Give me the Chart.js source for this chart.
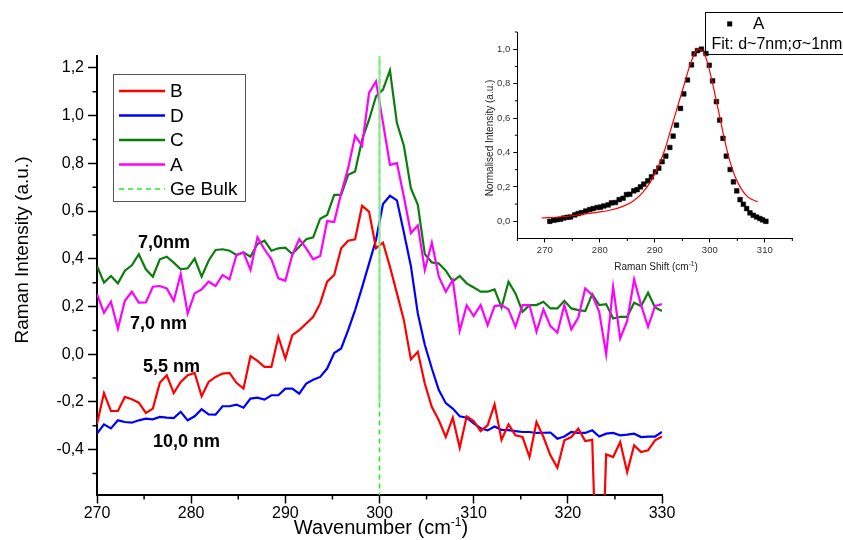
<!DOCTYPE html>
<html>
<head>
<meta charset="utf-8">
<script src="https://cdn.jsdelivr.net/npm/chart.js@4.4.0/dist/chart.umd.min.js"></script>
<style>
  html, body { margin: 0; padding: 0; background: #fff; }
  #wrap { position: relative; width: 843px; height: 540px; }
  #main { position: absolute; left: 0; top: 0; }
  #inset { position: absolute; left: 470px; top: 0; }
</style>
</head>
<body>
<div id="wrap">
  <canvas id="main" width="843" height="540"></canvas>
  <canvas id="inset" width="373" height="275"></canvas>
</div>
<script>
// ---- main chart data (Raman spectra) ----
const wavenumber = [
  270.00, 270.74, 271.48, 272.22, 272.96, 273.70, 274.44, 275.19, 275.93, 276.67,
  277.41, 278.15, 278.89, 279.63, 280.37, 281.11, 281.85, 282.59, 283.33, 284.07,
  284.81, 285.56, 286.30, 287.04, 287.78, 288.52, 289.26, 290.00, 290.74, 291.48,
  292.22, 292.96, 293.70, 294.44, 295.19, 295.93, 296.67, 297.41, 298.15, 298.89,
  299.63, 300.37, 301.11, 301.85, 302.59, 303.33, 304.07, 304.81, 305.56, 306.30,
  307.04, 307.78, 308.52, 309.26, 310.00, 310.74, 311.48, 312.22, 312.96, 313.70,
  314.44, 315.19, 315.93, 316.67, 317.41, 318.15, 318.89, 319.63, 320.37, 321.11,
  321.85, 322.59, 323.33, 324.07, 324.81, 325.56, 326.30, 327.04, 327.78, 328.52,
  329.26, 330.00
];

const intensityB = [
  -0.291, -0.163, -0.238, -0.238, -0.179, -0.189, -0.203, -0.246, -0.228, -0.120,
  -0.088, -0.163, -0.116, -0.088, -0.078, -0.176, -0.116, -0.095, -0.081, -0.078,
  -0.120, -0.144, -0.008, -0.028, -0.053, -0.053, 0.073, -0.018, 0.080, 0.101,
  0.129, 0.157, 0.213, 0.304, 0.332, 0.444, 0.476, 0.482, 0.622, 0.598,
  0.444, 0.468, 0.367, 0.255, 0.143, -0.022, 0.010, -0.123, -0.221, -0.277,
  -0.347, -0.266, -0.392, -0.260, -0.280, -0.322, -0.298, -0.210, -0.359, -0.294,
  -0.340, -0.347, -0.431, -0.284, -0.347, -0.424, -0.476, -0.361, -0.347, -0.312,
  -0.364, -0.359, -1.300, -0.420, -0.431, -0.368, -0.494, -0.382, -0.410, -0.403,
  -0.361, -0.345
];

const intensityD = [
  -0.333, -0.294, -0.311, -0.277, -0.284, -0.287, -0.277, -0.270, -0.273, -0.263,
  -0.266, -0.268, -0.241, -0.277, -0.260, -0.230, -0.252, -0.253, -0.218, -0.218,
  -0.211, -0.224, -0.186, -0.182, -0.190, -0.172, -0.172, -0.144, -0.144, -0.165,
  -0.123, -0.107, -0.095, -0.060, 0.005, 0.024, 0.101, 0.185, 0.280, 0.380,
  0.480, 0.630, 0.664, 0.645, 0.510, 0.370, 0.170, 0.040, -0.060, -0.150,
  -0.205, -0.228, -0.260, -0.266, -0.290, -0.310, -0.319, -0.303, -0.317, -0.318,
  -0.322, -0.326, -0.326, -0.330, -0.329, -0.328, -0.354, -0.345, -0.326, -0.330,
  -0.330, -0.319, -0.345, -0.333, -0.330, -0.340, -0.337, -0.333, -0.347, -0.345,
  -0.345, -0.326
];

const intensityC = [
  0.370, 0.300, 0.328, 0.297, 0.350, 0.373, 0.419, 0.356, 0.325, 0.398,
  0.409, 0.384, 0.356, 0.360, 0.401, 0.325, 0.392, 0.437, 0.440, 0.434,
  0.416, 0.427, 0.409, 0.462, 0.476, 0.434, 0.444, 0.447, 0.420, 0.451,
  0.482, 0.490, 0.568, 0.584, 0.668, 0.668, 0.752, 0.766, 0.899, 0.983,
  1.081, 1.109, 1.190, 0.969, 0.874, 0.696, 0.626, 0.420, 0.385, 0.380,
  0.350, 0.305, 0.328, 0.297, 0.280, 0.262, 0.262, 0.272, 0.196, 0.304,
  0.255, 0.178, 0.206, 0.206, 0.220, 0.192, 0.192, 0.224, 0.192, 0.185,
  0.181, 0.252, 0.206, 0.210, 0.150, 0.157, 0.157, 0.216, 0.202, 0.258,
  0.196, 0.181
];

const intensityA = [
  0.252, 0.174, 0.220, 0.108, 0.224, 0.262, 0.216, 0.217, 0.283, 0.286,
  0.276, 0.224, 0.336, 0.171, 0.255, 0.272, 0.304, 0.286, 0.332, 0.314,
  0.416, 0.427, 0.353, 0.490, 0.440, 0.398, 0.318, 0.308, 0.416, 0.482,
  0.444, 0.398, 0.412, 0.558, 0.554, 0.675, 0.780, 0.916, 0.874, 1.095,
  1.144, 0.970, 0.794, 0.801, 0.660, 0.508, 0.540, 0.353, 0.468, 0.325,
  0.262, 0.311, 0.098, 0.205, 0.160, 0.206, 0.122, 0.202, 0.206, 0.188,
  0.115, 0.206, 0.206, 0.094, 0.188, 0.118, 0.090, 0.206, 0.104, 0.154,
  0.276, 0.248, 0.178, 0.000, 0.283, 0.066, 0.140, 0.314, 0.206, 0.115,
  0.202, 0.210
];

const geBulkX = 300;
const geBulkDashed = [-0.6, 1.25];
const geBulkSolid = [-0.2, 1.25];

const xTicks = [270, 280, 290, 300, 310, 320, 330];
const xMinor = [275, 285, 295, 305, 315, 325];
const yTicks = [-0.4, -0.2, 0, 0.2, 0.4, 0.6, 0.8, 1.0, 1.2];
const yMinor = [-0.5, -0.3, -0.1, 0.1, 0.3, 0.5, 0.7, 0.9, 1.1];

const sizeLabels = ["7,0nm", "7,0 nm", "5,5 nm", "10,0 nm"];

// ---- inset data (normalised spectrum A + fit) ----
const shiftA = [
  270.91, 271.64, 272.24, 272.85, 273.45, 274.06, 274.67, 275.45, 276.06, 276.67,
  277.45, 278.18, 278.79, 279.52, 280.12, 280.73, 281.52, 282.12, 282.85, 283.52,
  284.24, 284.85, 285.45, 286.18, 286.79, 287.39, 288.00, 288.73, 289.39, 290.12,
  290.73, 291.33, 292.00, 292.73, 293.33, 293.94, 294.67, 295.27, 295.94, 296.67,
  297.15, 297.76, 298.48, 299.30, 299.90, 300.50, 301.20, 301.80, 302.40, 303.00,
  303.70, 304.30, 304.90, 305.50, 306.10, 306.70, 307.30, 307.90, 308.50, 309.10,
  309.60, 310.20
];
const normA = [
  0.000, 0.006, 0.010, 0.012, 0.019, 0.023, 0.025, 0.037, 0.045, 0.050,
  0.060, 0.068, 0.074, 0.080, 0.082, 0.089, 0.095, 0.107, 0.109, 0.126,
  0.134, 0.155, 0.157, 0.177, 0.184, 0.200, 0.216, 0.235, 0.258, 0.287,
  0.309, 0.346, 0.379, 0.429, 0.495, 0.559, 0.656, 0.740, 0.821, 0.909,
  0.973, 0.992, 1.000, 0.975, 0.907, 0.816, 0.695, 0.588, 0.482, 0.379,
  0.301, 0.229, 0.177, 0.126, 0.099, 0.074, 0.049, 0.035, 0.025, 0.016,
  0.008, 0.000
];
const fitShift = [
  269.4, 272.7, 275.8, 278.8, 281.8, 284.2, 286.1, 287.9, 289.4, 290.6,
  291.8, 292.7, 293.6, 294.5, 295.5, 296.4, 297.3, 297.9, 299.1, 300.0,
  300.9, 301.8, 302.7, 303.6, 304.5, 305.7, 306.9, 308.7
];
const fitNorm = [
  0.019, 0.025, 0.035, 0.049, 0.064, 0.087, 0.118, 0.171, 0.239, 0.317,
  0.414, 0.511, 0.608, 0.705, 0.812, 0.909, 0.977, 1.000, 0.967, 0.870,
  0.744, 0.608, 0.472, 0.355, 0.268, 0.190, 0.142, 0.113
];

const insetXTicks = [270, 280, 290, 300, 310];
const insetXMinor = [265, 275, 285, 295, 305, 315];
const insetYTicks = [0, 0.2, 0.4, 0.6, 0.8, 1.0];
const insetYMinor = [0.1, 0.3, 0.5, 0.7, 0.9, 1.1];

// ---- helpers ----
const FONT = '"Liberation Sans", Arial, sans-serif';
const comma = v => (Math.abs(v) < 1e-9 ? 0 : v).toFixed(1).replace('.', ',');
const pts = (xs, ys) => ys.map((v, i) => ({ x: xs[i], y: v }));

// short minor tick marks drawn outside the axes
const minorTicks = {
  id: 'minorTicks',
  afterDraw(chart, args, opts) {
    const { ctx, chartArea } = chart;
    const xs = chart.scales.x, ys = chart.scales.y;
    ctx.save();
    ctx.strokeStyle = '#000';
    ctx.lineWidth = opts.width;
    ctx.beginPath();
    opts.x.forEach(v => {
      const p = xs.getPixelForValue(v);
      ctx.moveTo(p, chartArea.bottom);
      ctx.lineTo(p, chartArea.bottom + opts.len);
    });
    opts.y.forEach(v => {
      const p = ys.getPixelForValue(v);
      ctx.moveTo(chartArea.left, p);
      ctx.lineTo(chartArea.left - opts.len, p);
    });
    ctx.stroke();
    ctx.restore();
  }
};

function superTitle(ctx, text, sup, close, cx, baseline, size, supSize) {
  ctx.font = size + 'px ' + FONT;
  const w1 = ctx.measureText(text).width;
  const w3 = ctx.measureText(close).width;
  ctx.font = supSize + 'px ' + FONT;
  const w2 = ctx.measureText(sup).width;
  let x = cx - (w1 + w2 + w3) / 2;
  ctx.textAlign = 'left';
  ctx.textBaseline = 'alphabetic';
  ctx.font = size + 'px ' + FONT;
  ctx.fillText(text, x, baseline);
  x += w1;
  ctx.font = supSize + 'px ' + FONT;
  ctx.fillText(sup, x, baseline - size * 0.42);
  x += w2;
  ctx.font = size + 'px ' + FONT;
  ctx.fillText(close, x, baseline);
}

// legend box, size notes and axis titles of the main plot
const mainDecor = {
  id: 'mainDecor',
  afterDraw(chart) {
    const ctx = chart.ctx;
    ctx.save();
    ctx.strokeStyle = '#555';
    ctx.lineWidth = 1;
    ctx.strokeRect(113.5, 74.5, 132, 127);
    ctx.font = '19px ' + FONT;
    ctx.textBaseline = 'middle';
    ctx.textAlign = 'left';
    chart.data.datasets.filter(d => !d.noLegend).forEach((d, i) => {
      const y = 91 + i * 24.5;
      ctx.beginPath();
      ctx.strokeStyle = d.borderColor;
      ctx.lineWidth = d.borderDash ? 1.6 : 2.5;
      ctx.setLineDash(d.borderDash || []);
      ctx.moveTo(119, y);
      ctx.lineTo(165, y);
      ctx.stroke();
      ctx.setLineDash([]);
      ctx.fillStyle = '#000';
      ctx.fillText(d.label, 170, y + 1);
    });

    const notePos = [[138, 243], [130, 324], [143, 367], [153, 442]];
    ctx.font = 'bold 18px ' + FONT;
    sizeLabels.forEach((t, i) => ctx.fillText(t, notePos[i][0], notePos[i][1]));

    ctx.save();
    ctx.translate(23, 250);
    ctx.rotate(-Math.PI / 2);
    ctx.textAlign = 'center';
    ctx.font = '19px ' + FONT;
    ctx.fillText('Raman Intensity (a.u.)', 0, 0);
    ctx.restore();

    superTitle(ctx, 'Wavenumber (cm', '-1', ')', 381, 534, 20, 12);
    ctx.restore();
  }
};

const axisStyle = (len, width) => ({
  grid: { drawOnChartArea: false, drawTicks: true, tickLength: len, tickWidth: width, tickColor: '#000' },
  border: { display: true, color: '#000', width: 2 }
});

new Chart(document.getElementById('main'), {
  type: 'line',
  data: {
    datasets: [
      { label: 'B', data: pts(wavenumber, intensityB), borderColor: '#ff0000', order: 3 },
      { label: 'D', data: pts(wavenumber, intensityD), borderColor: '#0000ff', order: 4 },
      { label: 'C', data: pts(wavenumber, intensityC), borderColor: '#0b7d0b', order: 2 },
      { label: 'A', data: pts(wavenumber, intensityA), borderColor: '#ff00ff', order: 1 },
      { label: 'Ge Bulk', data: geBulkDashed.map(y => ({ x: geBulkX, y })), borderColor: '#22ee22',
        borderDash: [5, 4], borderWidth: 1.6, order: 0 },
      { label: 'Ge Bulk line', noLegend: true, data: geBulkSolid.map(y => ({ x: geBulkX, y })),
        borderColor: '#86e886', borderWidth: 2, order: -1 }
    ]
  },
  options: {
    responsive: false,
    animation: false,
    elements: { point: { radius: 0 }, line: { borderWidth: 2.2, tension: 0 } },
    layout: { padding: { left: 0, top: 56, right: 181, bottom: 0 } },
    plugins: {
      legend: { display: false },
      tooltip: { enabled: false },
      minorTicks: { x: xMinor, y: yMinor, len: 4.5, width: 1.5 }
    },
    scales: {
      x: {
        type: 'linear', min: 270, max: 330,
        afterFit: s => { s.height = 45; },
        afterBuildTicks: s => { s.ticks = xTicks.map(v => ({ value: v })); },
        ticks: { color: '#000', font: { family: FONT, size: 16 }, padding: 0, maxRotation: 0,
                 callback: v => String(v) },
        ...axisStyle(8.5, 1.5)
      },
      y: {
        type: 'linear', min: -0.59, max: 1.25,
        afterFit: s => { s.width = 97; },
        afterBuildTicks: s => { s.ticks = yTicks.map(v => ({ value: v })); },
        ticks: { color: '#000', font: { family: FONT, size: 16 }, padding: 4, callback: v => comma(v) },
        ...axisStyle(9, 1.5)
      }
    }
  },
  plugins: [minorTicks, mainDecor]
});

// ---- inset ----
const insetDecor = {
  id: 'insetDecor',
  afterDraw(chart) {
    const ctx = chart.ctx;
    ctx.save();
    ctx.fillStyle = '#000';
    ctx.strokeStyle = '#000';
    ctx.lineWidth = 1;
    ctx.strokeRect(235.5, 12.5, 150, 42);
    ctx.fillRect(257.2, 21.4, 5, 5);
    ctx.textBaseline = 'middle';
    ctx.textAlign = 'left';
    ctx.font = '17px ' + FONT;
    ctx.fillText('A', 283, 24);
    ctx.font = '16px ' + FONT;
    ctx.fillText('Fit: d~7nm;\u03c3~1nm', 241.5, 45);

    ctx.fillStyle = '#222';
    ctx.save();
    ctx.translate(20, 138);
    ctx.rotate(-Math.PI / 2);
    ctx.textAlign = 'center';
    ctx.font = '10px ' + FONT;
    ctx.fillText('Normalised Intensity (a.u.)', 0, 0);
    ctx.restore();
    superTitle(ctx, 'Raman Shift (cm', '-1', ')', 186, 270, 10, 6.5);
    ctx.restore();
  }
};

const insetAxis = (len) => ({
  grid: { drawOnChartArea: false, drawTicks: true, tickLength: len, tickWidth: 1, tickColor: '#000' },
  border: { display: true, color: '#000', width: 1 }
});

new Chart(document.getElementById('inset'), {
  type: 'line',
  data: {
    datasets: [
      { label: 'A', data: pts(shiftA, normA), showLine: false, pointStyle: 'rect',
        pointRadius: 3.3, pointBackgroundColor: '#000', pointBorderColor: '#000', pointBorderWidth: 0.5, order: 1 },
      { label: 'Fit', data: pts(fitShift, fitNorm), borderColor: '#ff0000', borderWidth: 1.2,
        pointRadius: 0, cubicInterpolationMode: 'monotone', order: 0 }
    ]
  },
  options: {
    responsive: false,
    animation: false,
    layout: { padding: { left: 0, top: 32, right: 50.7, bottom: 0 } },
    plugins: {
      legend: { display: false },
      tooltip: { enabled: false },
      minorTicks: { x: insetXMinor, y: insetYMinor, len: 2.5, width: 1 }
    },
    scales: {
      x: {
        type: 'linear', min: 265, max: 315,
        afterFit: s => { s.height = 36.5; },
        afterBuildTicks: s => { s.ticks = insetXTicks.map(v => ({ value: v })); },
        ticks: { color: '#333', font: { family: FONT, size: 9.5 }, padding: 2, maxRotation: 0,
                 callback: v => String(v) },
        ...insetAxis(4)
      },
      y: {
        type: 'linear', min: -0.1, max: 1.1,
        afterFit: s => { s.width = 47.3; },
        afterBuildTicks: s => { s.ticks = insetYTicks.map(v => ({ value: v })); },
        ticks: { color: '#333', font: { family: FONT, size: 9.5 }, padding: 3, callback: v => comma(v) },
        ...insetAxis(4)
      }
    }
  },
  plugins: [minorTicks, insetDecor]
});
</script>
</body>
</html>
